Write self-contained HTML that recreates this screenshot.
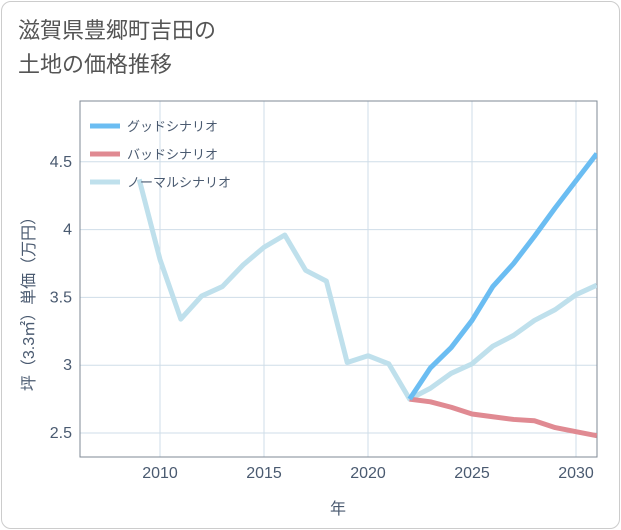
<!DOCTYPE html>
<html><head><meta charset="utf-8"><style>
body{margin:0;background:#fff;font-family:"Liberation Sans","Noto Sans CJK JP",sans-serif;}
#card{position:absolute;left:1px;top:1px;width:617px;height:526px;border:1px solid #ccc;border-radius:10px;background:#fff;}
#title{position:absolute;left:18px;top:14px;font-size:22px;line-height:34px;color:#555;}
svg{position:absolute;left:0;top:0;}
</style></head><body>
<div id="card"></div>
<div id="title">滋賀県豊郷町吉田の<br>土地の価格推移</div>
<svg id="chart" width="621" height="530"></svg>
<script>
const years=[2009,2010,2011,2012,2013,2014,2015,2016,2017,2018,2019,2020,2021,2022,2023,2024,2025,2026,2027,2028,2029,2030,2031];
const normal=[4.37,3.78,3.34,3.51,3.58,3.74,3.87,3.96,3.70,3.62,3.02,3.07,3.01,2.75,2.83,2.94,3.01,3.14,3.22,3.33,3.41,3.52,3.59];
const goodYears=[2022,2023,2024,2025,2026,2027,2028,2029,2030,2031];
const good=[2.75,2.98,3.13,3.33,3.58,3.75,3.95,4.16,4.36,4.56];
const bad=[2.75,2.73,2.69,2.64,2.62,2.60,2.59,2.54,2.51,2.48];
const xTicks=[2010,2015,2020,2025,2030];
const yTicks=[2.5,3,3.5,4,4.5];
const L=80,R=597,T=101,B=457;
const x=v=>160+(v-2010)*20.8;
const y=v=>433-(v-2.5)*135.6;
const s=document.getElementById('chart');const NS='http://www.w3.org/2000/svg';
function mk(t,a,p){const e=document.createElementNS(NS,t);for(const k in a)e.setAttribute(k,a[k]);(p||s).appendChild(e);return e;}
const clip=mk('clipPath',{id:'c'});mk('rect',{x:L,y:T,width:R-L,height:B-T},clip);
xTicks.forEach(t=>{const l=mk('line',{x1:x(t),x2:x(t),y1:T,y2:B,stroke:'#cfdde8','stroke-width':1});

const tx=mk('text',{x:x(t),y:478,'text-anchor':'middle','font-size':16,fill:'#4a5a70'});tx.textContent=t;
});
yTicks.forEach(t=>{const l=mk('line',{x1:L,x2:R,y1:y(t),y2:y(t),stroke:'#cfdde8','stroke-width':1});

const tx=mk('text',{x:72,y:y(t)+5,'text-anchor':'end','font-size':16,fill:'#4a5a70'});tx.textContent=t;
});
const fr=mk('rect',{x:L,y:T,width:R-L,height:B-T,fill:'none',stroke:'#7f8a96','stroke-width':1});

function line(xs,vs,c,n){const p=mk('polyline',{points:xs.map((v,i)=>x(v)+','+y(vs[i])).join(' '),fill:'none',stroke:c,'stroke-width':5,'stroke-linejoin':'round','clip-path':'url(#c)'});
}
line(years,normal,'#bfe0ec','normal-scenario-line');
line(goodYears,bad,'#e08a92','bad-scenario-line');
line(goodYears,good,'#6bbdf2','good-scenario-line');
const leg=[['グッドシナリオ','#6bbdf2'],['バッドシナリオ','#e08a92'],['ノーマルシナリオ','#bfe0ec']];
leg.forEach((d,i)=>{const yy=126+i*28;const l=mk('line',{x1:90,x2:120,y1:yy,y2:yy,stroke:d[1],'stroke-width':5});

const t=mk('text',{x:127,y:yy+5,'font-size':13,fill:'#4a5a70'});t.textContent=d[0];
});
const xt=mk('text',{x:338,y:514,'text-anchor':'middle','font-size':16,fill:'#4a5a70'});xt.textContent='年';

const yt=mk('text',{x:0,y:0,transform:'translate(34,300) rotate(-90)','text-anchor':'middle','font-size':16,fill:'#4a5a70'});yt.textContent='坪（3.3㎡）単価（万円）';

</script>
</body></html>
